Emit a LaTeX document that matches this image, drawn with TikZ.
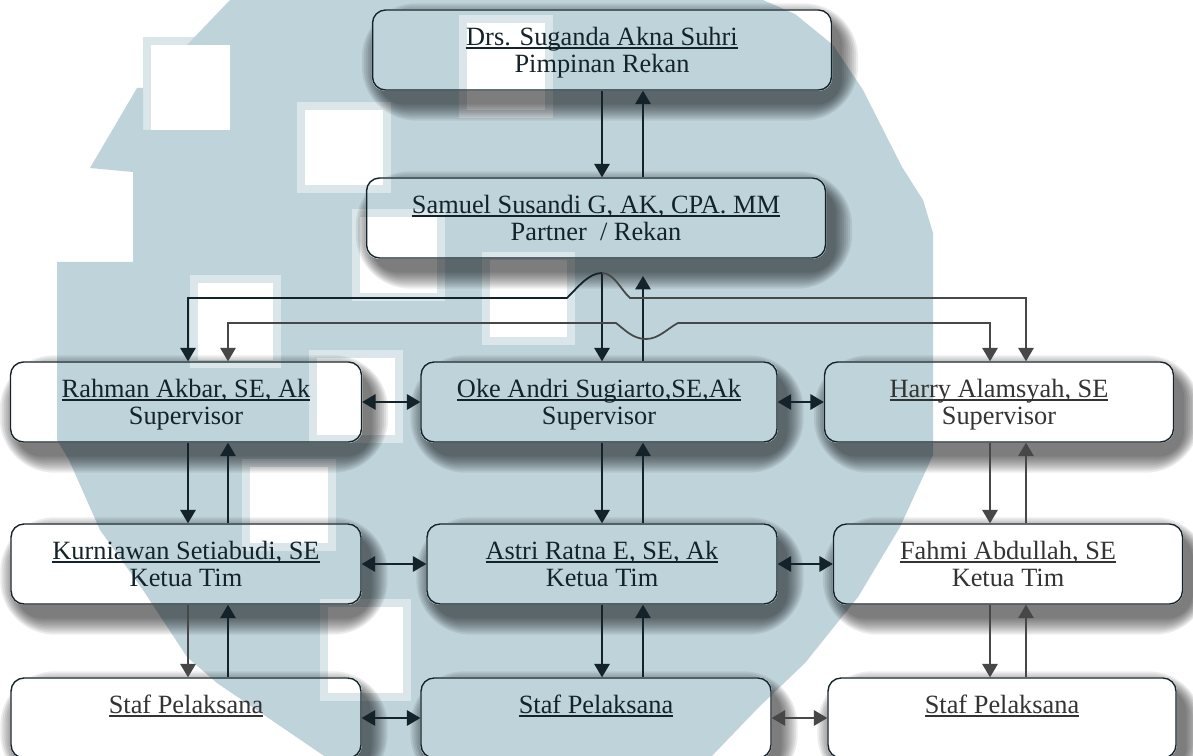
\documentclass[tikz,border=0pt]{standalone}
\usepackage{fontspec}
\setmainfont{Liberation Serif}
\usetikzlibrary{arrows.meta}

\definecolor{wmblue}{HTML}{BFD3DA}
\definecolor{wmlight}{HTML}{DAE6EA}
\definecolor{lineclr}{HTML}{14232A}
\definecolor{greyclr}{HTML}{474747}

\pgfdeclarelayer{wm}
\pgfdeclarelayer{shade}
\pgfdeclarelayer{repaint}
\pgfsetlayers{wm,shade,repaint,main}

% underline that cuts the descenders
\newcommand\uln[1]{\setbox0\hbox{#1}\rlap{\rule[-0.14em]{\wd0}{0.06em}}\box0}
% name (underlined) over role
\newcommand\two[2]{\uln{#1}\rule{0pt}{0.9em}\\#2\rule[-0.25em]{0pt}{0pt}}

% one square of the logo: light rim, white inside
\newcommand\wsq[4]{%
  \fill[wmlight] (#1-8,#2-8) rectangle (#3+8,#4+8);
  \fill[white] (#1,#2) rectangle (#3,#4);}

% logo behind the chart
\newcommand\wmark{%
  \fill[white] (0,0) rectangle (1193,760);
  \fill[wmlight] (143,37) rectangle (238,138);
  \fill[wmblue] (230,0) -- (763,0) -- (795,14) -- (833,45) -- (863,90)
    -- (902,167) -- (923,200) -- (933,233) -- (933,455) -- (900,527)
    -- (858,597) -- (805,663) -- (759,707) -- (708,760) -- (330,760)
    -- (267,717) -- (217,683) -- (187,657) -- (143,590) -- (100,530)
    -- (69,460) -- (57,440) -- (57,262) -- (133,262) -- (133,172)
    -- (90,168) -- (137,88) -- (143,88) -- (143,130) -- (230,130)
    -- (230,45) -- (187,45) -- cycle;
  \wsq{467}{23}{545}{110}
  \wsq{305}{110}{383}{185}
  \wsq{360}{217}{437}{293}
  \wsq{490}{260}{567}{337}
  \wsq{198}{283}{273}{360}
  \wsq{317}{358}{395}{435}
  \wsq{250}{467}{328}{543}
  \wsq{328}{607}{403}{693}
  \fill[white] (151,45) rectangle (230,130);}

% soft shadow under a box, then the logo again inside it
\newcommand\boxback[1]{%
  \begin{pgfonlayer}{shade}
    \foreach \s in {18,16,...,2}
      \fill[black, opacity=0.075, rounded corners=13+\s]
        ([shift={(8-\s,12+\s)}]#1.south west) rectangle ([shift={(8+\s,12-\s)}]#1.north east);
  \end{pgfonlayer}
  \begin{pgfonlayer}{repaint}
    \begin{scope}
      \clip[rounded corners=0.26cm] (#1.south west) rectangle (#1.north east);
      \wmark
    \end{scope}
  \end{pgfonlayer}}

\begin{document}
\begin{tikzpicture}[x=0.02cm, y=-0.02cm]
    \useasboundingbox (0,0) rectangle (1193,756);
    \begin{pgfonlayer}{wm}
      \wmark
    \end{pgfonlayer}

    \tikzset{box/.style={draw=lineclr, line width=0.8pt, rounded corners=0.26cm,
      minimum width=7cm, minimum height=1.6cm, inner sep=0pt, align=center,
      text=lineclr, font=\fontsize{15}{15.3}\selectfont}}
    \tikzset{ar/.style={lineclr, line width=1pt, >={Triangle[length=0.27cm,width=0.31cm]}}}
    \tikzset{arg/.style={ar, greyclr}}

    \node[box, minimum width=9.18cm] (drs) at (602,50)  {\two{Drs. Suganda Akna Suhri}{Pimpinan Rekan}};
    \node[box, minimum width=9.18cm] (sam) at (596,218) {\two{Samuel Susandi G, AK, CPA. MM}{Partner~ / Rekan}};

    \node[box, minimum width=7.02cm] (rah) at (186,402) {\two{Rahman Akbar, SE, Ak}{Supervisor}};
    \node[box, minimum width=7.12cm] (oke) at (599,402) {\two{Oke Andri Sugiarto,SE,Ak}{Supervisor}};
    \node[box, minimum width=6.98cm, text=black!80] (har) at (999,402) {\two{Harry Alamsyah, SE}{Supervisor}};

    \node[box] (kur) at (186,564) {\two{Kurniawan Setiabudi, SE}{Ketua Tim}};
    \node[box] (ast) at (602,564) {\two{Astri Ratna E, SE, Ak}{Ketua Tim}};
    \node[box, minimum width=6.98cm, text=black!80] (fah) at (1008,564) {\two{Fahmi Abdullah, SE}{Ketua Tim}};

    \node[box, text=black!80] (stl) at (186,718) {\two{Staf Pelaksana}{}};
    \node[box] (stm) at (596,718) {\two{Staf Pelaksana}{}};
    \node[box, minimum width=6.96cm, text=black!80] (str) at (1002,718) {\two{Staf Pelaksana}{}};

    \boxback{drs} \boxback{sam}
    \boxback{rah} \boxback{oke} \boxback{har}
    \boxback{kur} \boxback{ast} \boxback{fah}
    \boxback{stl} \boxback{stm} \boxback{str}

    % columns of the vertical arrows
    \coordinate (xL1) at (188,0);
    \coordinate (xL2) at (228,0);
    \coordinate (xM1) at (602,0);
    \coordinate (xM2) at (643,0);
    \coordinate (xR1) at (990,0);
    \coordinate (xR2) at (1026,0);
    \coordinate (hop)    at (602,273);
    \coordinate (dip)    at (646,339);
    \coordinate (tipsam) at (643,276);

    \draw[ar,->] (drs.south -| xM1) -- (sam.north -| xM1);
    \draw[ar,->] (sam.north -| xM2) -- (drs.south -| xM2);

    \draw[ar,->] (hop) -- (oke.north -| xM1);
    \draw[ar,->] (oke.north -| xM2) -- (tipsam);

    \draw[ar,->] (hop) .. controls (589,273) and (579,286) .. (567,298) -| (rah.north -| xL1);
    \draw[arg,->] (hop) .. controls (614,273) and (621,290) .. (630,298) -| (har.north -| xR2);
    \draw[arg,->] (dip) .. controls (633,339) and (625,330) .. (616,323) -| (rah.north -| xL2);
    \draw[arg,->] (dip) .. controls (659,339) and (668,328) .. (678,323) -| (har.north -| xR1);

    \draw[ar,<->] (rah.east) -- (oke.west);
    \draw[ar,<->] (oke.east) -- (har.west);
    \draw[ar,<->] (kur.east) -- (ast.west);
    \draw[ar,<->] (ast.east) -- (fah.west);
    \draw[ar,<->] (stl.east) -- (stm.west);
    \draw[arg,<->] (stm.east) -- (str.west);

    \draw[ar,->] (rah.south -| xL1) -- (kur.north -| xL1);
    \draw[ar,->] (kur.north -| xL2) -- (rah.south -| xL2);
    \draw[arg,->] (kur.south -| xL1) -- (stl.north -| xL1);
    \draw[ar,->] (stl.north -| xL2) -- (kur.south -| xL2);

    \draw[ar,->] (oke.south -| xM1) -- (ast.north -| xM1);
    \draw[ar,->] (ast.north -| xM2) -- (oke.south -| xM2);
    \draw[ar,->] (ast.south -| xM1) -- (stm.north -| xM1);
    \draw[ar,->] (stm.north -| xM2) -- (ast.south -| xM2);

    \draw[arg,->] (har.south -| xR1) -- (fah.north -| xR1);
    \draw[arg,->] (fah.north -| xR2) -- (har.south -| xR2);
    \draw[arg,->] (fah.south -| xR1) -- (str.north -| xR1);
    \draw[arg,->] (str.north -| xR2) -- (fah.south -| xR2);

\end{tikzpicture}
\end{document}
